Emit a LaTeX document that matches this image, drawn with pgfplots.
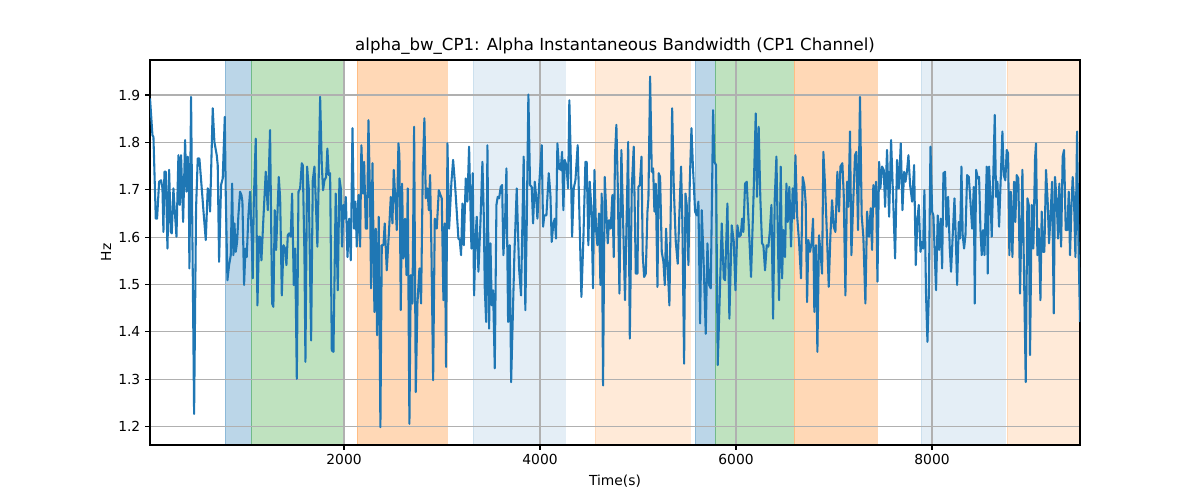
\documentclass[border=0pt]{standalone}
\usepackage{fontspec}
\setmainfont{DejaVu Sans}
\usepackage{pgfplots}
\usepackage{pgfplotstable}
\pgfplotsset{compat=1.18}
\definecolor{tabblue}{HTML}{1F77B4}
\definecolor{tabgreen}{HTML}{2CA02C}
\definecolor{taborange}{HTML}{FF7F0E}
\definecolor{gridgray}{HTML}{B0B0B0}
\pgfplotstableread{
x y
20 1.893
45 1.815
55 1.812
79 1.639
92 1.639
113 1.717
133 1.720
147 1.703
157 1.611
167 1.738
181 1.738
198 1.576
215 1.742
232 1.611
242 1.608
259 1.703
269 1.668
290 1.601
310 1.773
324 1.668
337 1.773
358 1.632
378 1.805
392 1.696
405 1.770
416 1.703
422 1.534
439 1.896
470 1.227
490 1.661
507 1.766
524 1.766
548 1.703
569 1.646
589 1.594
609 1.703
623 1.696
633 1.654
660 1.872
677 1.801
701 1.773
711 1.752
725 1.548
745 1.710
762 1.724
783 1.854
793 1.689
810 1.509
827 1.541
844 1.562
858 1.713
871 1.562
882 1.629
895 1.569
909 1.590
922 1.646
939 1.696
953 1.689
963 1.675
980 1.499
994 1.576
1007 1.558
1024 1.646
1041 1.696
1058 1.597
1068 1.513
1079 1.675
1099 1.808
1116 1.456
1133 1.601
1143 1.601
1157 1.551
1177 1.639
1201 1.738
1222 1.657
1245 1.826
1266 1.460
1279 1.453
1293 1.657
1307 1.573
1334 1.727
1348 1.682
1365 1.477
1382 1.583
1399 1.576
1412 1.541
1426 1.604
1439 1.608
1456 1.601
1470 1.692
1487 1.499
1501 1.576
1518 1.301
1535 1.696
1552 1.703
1569 1.756
1579 1.752
1596 1.562
1606 1.337
1623 1.749
1640 1.703
1664 1.382
1681 1.720
1698 1.749
1712 1.675
1728 1.580
1739 1.696
1756 1.896
1773 1.752
1786 1.699
1800 1.720
1817 1.727
1830 1.787
1844 1.731
1858 1.735
1875 1.361
1892 1.358
1915 1.692
1936 1.488
1953 1.724
1967 1.703
1980 1.580
1994 1.668
2004 1.639
2018 1.685
2035 1.558
2052 1.639
2069 1.551
2086 1.830
2103 1.618
2116 1.675
2130 1.580
2147 1.689
2164 1.580
2177 1.794
2194 1.692
2205 1.759
2222 1.618
2235 1.618
2249 1.847
2266 1.675
2276 1.492
2290 1.756
2310 1.442
2324 1.618
2337 1.393
2354 1.643
2371 1.199
2385 1.583
2402 1.583
2415 1.629
2436 1.530
2460 1.618
2477 1.685
2494 1.629
2507 1.742
2521 1.689
2538 1.615
2555 1.798
2565 1.773
2579 1.446
2592 1.713
2606 1.555
2623 1.639
2637 1.520
2650 1.703
2667 1.206
2681 1.520
2698 1.460
2715 1.833
2732 1.273
2749 1.460
2769 1.534
2786 1.460
2803 1.735
2820 1.851
2834 1.682
2851 1.703
2865 1.657
2878 1.731
2892 1.569
2909 1.298
2926 1.639
2946 1.618
2967 1.699
2984 1.689
2997 1.682
3014 1.467
3028 1.629
3041 1.326
3055 1.798
3072 1.618
3096 1.717
3113 1.763
3133 1.710
3150 1.654
3167 1.597
3181 1.594
3194 1.562
3208 1.671
3222 1.583
3242 1.724
3259 1.675
3276 1.791
3290 1.661
3300 1.576
3313 1.735
3327 1.477
3341 1.597
3354 1.643
3371 1.527
3392 1.632
3412 1.759
3426 1.646
3436 1.492
3450 1.421
3463 1.794
3480 1.407
3494 1.587
3507 1.456
3521 1.488
3538 1.323
3555 1.668
3568 1.685
3582 1.682
3599 1.706
3613 1.710
3626 1.562
3643 1.632
3657 1.745
3674 1.421
3691 1.583
3705 1.294
3738 1.562
3762 1.703
3786 1.534
3806 1.477
3833 1.770
3850 1.446
3864 1.625
3881 1.901
3898 1.710
3915 1.706
3929 1.629
3946 1.717
3959 1.689
3973 1.639
3993 1.717
4017 1.794
4031 1.622
4044 1.646
4065 1.646
4089 1.735
4106 1.689
4119 1.590
4136 1.629
4150 1.639
4163 1.597
4177 1.798
4194 1.745
4211 1.742
4225 1.780
4238 1.657
4252 1.763
4269 1.752
4286 1.703
4299 1.889
4313 1.773
4327 1.601
4344 1.703
4361 1.720
4384 1.794
4401 1.654
4422 1.474
4442 1.594
4463 1.759
4476 1.759
4493 1.583
4507 1.717
4524 1.661
4541 1.492
4555 1.742
4571 1.618
4585 1.583
4602 1.650
4616 1.499
4629 1.692
4643 1.287
4660 1.727
4677 1.646
4691 1.587
4704 1.636
4721 1.618
4738 1.689
4752 1.558
4765 1.773
4779 1.837
4793 1.710
4810 1.481
4830 1.784
4847 1.639
4867 1.467
4899 1.801
4916 1.386
4936 1.703
4956 1.791
4977 1.523
4994 1.523
5004 1.706
5018 1.710
5035 1.770
5048 1.562
5062 1.516
5079 1.523
5096 1.654
5106 1.682
5123 1.939
5140 1.738
5154 1.745
5167 1.654
5181 1.713
5198 1.495
5211 1.735
5225 1.727
5242 1.569
5259 1.548
5273 1.499
5286 1.618
5303 1.534
5320 1.456
5348 1.872
5365 1.703
5385 1.590
5405 1.544
5426 1.675
5439 1.749
5453 1.625
5470 1.333
5484 1.692
5497 1.668
5514 1.541
5528 1.717
5545 1.830
5558 1.759
5582 1.654
5599 1.646
5616 1.675
5633 1.418
5650 1.657
5667 1.562
5691 1.396
5708 1.587
5725 1.499
5742 1.492
5766 1.868
5779 1.759
5796 1.752
5813 1.330
5834 1.477
5854 1.629
5875 1.513
5888 1.509
5912 1.671
5932 1.428
5956 1.625
5977 1.590
5994 1.488
6014 1.625
6031 1.601
6048 1.604
6062 1.639
6075 1.611
6092 1.713
6109 1.717
6133 1.611
6153 1.516
6177 1.675
6201 1.861
6214 1.685
6231 1.833
6248 1.682
6265 1.587
6279 1.583
6296 1.530
6313 1.583
6330 1.580
6344 1.611
6361 1.668
6378 1.428
6395 1.682
6412 1.770
6425 1.618
6439 1.467
6456 1.749
6470 1.513
6483 1.615
6500 1.558
6514 1.713
6527 1.632
6544 1.706
6561 1.580
6578 1.703
6592 1.639
6606 1.773
6623 1.646
6643 1.590
6663 1.513
6680 1.727
6697 1.710
6711 1.671
6725 1.463
6738 1.594
6755 1.569
6772 1.590
6786 1.639
6799 1.442
6816 1.583
6830 1.358
6847 1.604
6864 1.562
6878 1.523
6891 1.780
6908 1.710
6925 1.618
6946 1.495
6963 1.604
6980 1.678
6997 1.622
7014 1.611
7034 1.738
7051 1.654
7065 1.749
7085 1.756
7099 1.689
7116 1.477
7133 1.717
7146 1.664
7163 1.823
7177 1.562
7194 1.664
7214 1.773
7228 1.780
7245 1.615
7265 1.896
7282 1.646
7299 1.601
7320 1.460
7337 1.654
7357 1.601
7374 1.661
7388 1.573
7401 1.710
7409 1.664
7429 1.717
7443 1.506
7460 1.759
7473 1.703
7490 1.749
7507 1.742
7521 1.664
7541 1.784
7562 1.643
7582 1.805
7603 1.682
7623 1.555
7643 1.763
7661 1.703
7681 1.798
7698 1.657
7715 1.738
7729 1.717
7746 1.742
7759 1.773
7776 1.710
7797 1.675
7817 1.752
7834 1.541
7851 1.639
7865 1.668
7882 1.569
7895 1.590
7909 1.576
7922 1.699
7939 1.477
7953 1.379
7967 1.477
7984 1.791
8001 1.654
8014 1.646
8028 1.562
8041 1.488
8058 1.646
8072 1.573
8089 1.639
8103 1.534
8116 1.735
8133 1.738
8147 1.622
8164 1.685
8181 1.576
8194 1.527
8211 1.604
8229 1.682
8242 1.601
8256 1.499
8273 1.632
8286 1.597
8300 1.749
8313 1.604
8327 1.576
8341 1.604
8358 1.731
8375 1.727
8392 1.675
8409 1.618
8426 1.706
8436 1.460
8450 1.742
8467 1.724
8480 1.727
8494 1.615
8507 1.562
8521 1.615
8535 1.562
8558 1.749
8568 1.523
8582 1.749
8595 1.689
8609 1.601
8626 1.738
8640 1.858
8653 1.685
8667 1.717
8684 1.622
8701 1.724
8718 1.823
8731 1.731
8748 1.720
8762 1.784
8776 1.777
8789 1.562
8803 1.696
8820 1.558
8837 1.717
8850 1.632
8864 1.731
8881 1.724
8898 1.481
8922 1.742
8935 1.569
8956 1.294
8973 1.682
8987 1.668
9000 1.351
9017 1.668
9034 1.576
9051 1.766
9061 1.798
9075 1.562
9089 1.618
9106 1.467
9119 1.654
9133 1.569
9146 1.569
9163 1.742
9180 1.675
9194 1.587
9211 1.654
9225 1.717
9242 1.439
9255 1.727
9272 1.675
9286 1.597
9299 1.713
9317 1.580
9333 1.770
9347 1.784
9364 1.615
9381 1.615
9395 1.696
9408 1.562
9422 1.661
9435 1.727
9449 1.675
9463 1.558
9480 1.823
9493 1.601
9510 1.421
}\datatable
\pgfplotsset{
  span/.style 2 args={on layer=axis background, fill=#1, draw=#1, fill opacity=#2, draw opacity=#2, line width=0.7pt},
}
\begin{document}
\begin{tikzpicture}
\begin{axis}[
  set layers,
  at={(0,0)}, anchor=south west,
  scale only axis,
  width=672.11pt, height=278.24pt,
  xmin=20, xmax=9510,
  ymin=1.1614, ymax=1.9739,
  xtick={2000,4000,6000,8000},
  ytick={1.2,1.3,1.4,1.5,1.6,1.7,1.8,1.9},
  yticklabels={1.2,1.3,1.4,1.5,1.6,1.7,1.8,1.9},
  xticklabels={2000,4000,6000,8000},
  xtick pos=bottom, ytick pos=left,
  tick align=outside,
  major tick length=3.5pt,
  every tick/.style={black, line width=0.8pt},
  axis line style={black, line width=0.8pt},
  grid=major,
  major grid style={gridgray, line width=0.8pt},
  ticklabel style={font=\fontsize{10}{12}\selectfont},
  xticklabel style={anchor=north},
  yticklabel style={anchor=east},
  xlabel={Time(s)},
  ylabel={Hz},
  label style={font=\fontsize{10}{12}\selectfont},
  xlabel style={at={(axis description cs:0.5,-0.0935)}, anchor=center},
  ylabel style={at={(axis description cs:-0.0473,0.5)}, anchor=center},
  every axis title shift=0pt,
  title={alpha\_bw\_CP1: Alpha Instantaneous Bandwidth (CP1 Channel)},
  title style={at={(axis description cs:0.5,1.0234)}, anchor=base, yshift=0pt, font=\fontsize{12}{14}\selectfont},
]
% spans
\addplot[span={tabblue}{0.3}] coordinates {(786,1.1614) (786,1.9739) (1052,1.9739) (1052,1.1614)} -- cycle;
\addplot[span={tabgreen}{0.3}] coordinates {(1052,1.1614) (1052,1.9739) (1998,1.9739) (1998,1.1614)} -- cycle;
\addplot[span={taborange}{0.3}] coordinates {(2133,1.1614) (2133,1.9739) (3052,1.9739) (3052,1.1614)} -- cycle;
\addplot[span={tabblue}{0.12}] coordinates {(3317,1.1614) (3317,1.9739) (4256,1.9739) (4256,1.1614)} -- cycle;
\addplot[span={taborange}{0.16}] coordinates {(4562,1.1614) (4562,1.9739) (5531,1.9739) (5531,1.1614)} -- cycle;
\addplot[span={tabblue}{0.3}] coordinates {(5582,1.1614) (5582,1.9739) (5786,1.9739) (5786,1.1614)} -- cycle;
\addplot[span={tabgreen}{0.3}] coordinates {(5786,1.1614) (5786,1.9739) (6582,1.9739) (6582,1.1614)} -- cycle;
\addplot[span={taborange}{0.3}] coordinates {(6592,1.1614) (6592,1.9739) (7440,1.9739) (7440,1.1614)} -- cycle;
\addplot[span={tabblue}{0.12}] coordinates {(7888,1.1614) (7888,1.9739) (8745,1.9739) (8745,1.1614)} -- cycle;
\addplot[span={taborange}{0.16}] coordinates {(8766,1.1614) (8766,1.9739) (9509,1.9739) (9509,1.1614)} -- cycle;
% signal
\addplot[tabblue, line width=1.5pt, line join=round, mark=none] table[x=x, y=y] {\datatable};
\end{axis}
\path (-108.41pt,-39.75pt) rectangle (758.83pt,321.60pt);
\end{tikzpicture}
\end{document}
